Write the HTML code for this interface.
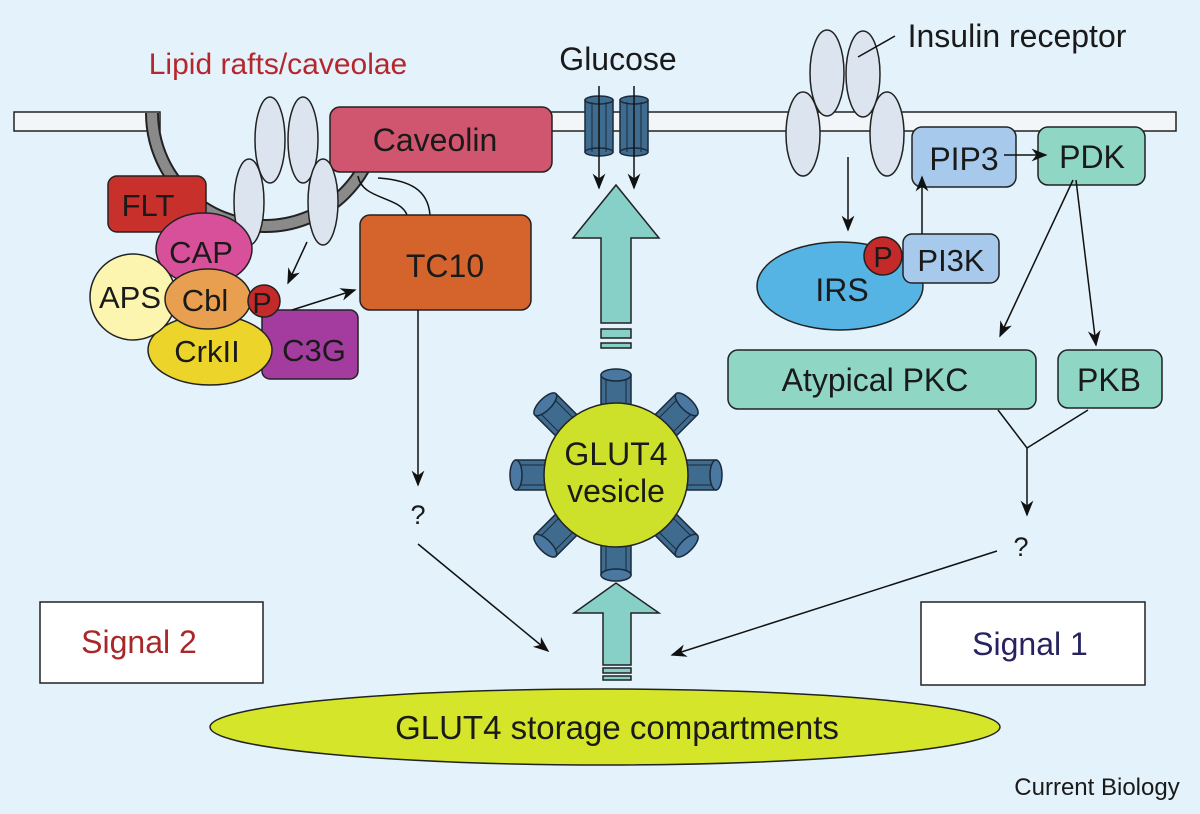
<!DOCTYPE html>
<html><head><meta charset="utf-8"><style>
html,body{margin:0;padding:0;background:#e3f2fb;}
svg{display:block;}
text{font-family:"Liberation Sans",sans-serif;fill:#1a1a1a;}
</style></head><body>
<svg width="1200" height="814" viewBox="0 0 1200 814" xmlns="http://www.w3.org/2000/svg">
<defs>
<marker id="ahb" viewBox="0 0 10 10" refX="9" refY="5" markerWidth="16" markerHeight="16" orient="auto" markerUnits="userSpaceOnUse">
<path d="M0,1 L10,5 L0,9 L3,5 Z" fill="#111"/></marker>
<g id="cyl">
<rect x="-15" y="-100" width="30" height="45" fill="#3f6b8f" stroke="#1a2a3a" stroke-width="1.5"/>
<line x1="-10" y1="-98" x2="-10" y2="-58" stroke="#1a2a3a"/>
<line x1="10" y1="-98" x2="10" y2="-58" stroke="#1a2a3a"/>
<ellipse cx="0" cy="-100" rx="15" ry="6" fill="#4a78a0" stroke="#1a2a3a" stroke-width="1.5"/>
</g>
</defs>
<rect width="1200" height="814" fill="#e3f2fb"/>

<!-- membrane -->
<rect x="14" y="112" width="146" height="19" fill="#f3f6f8" stroke="#222" stroke-width="1.5"/>
<rect x="540" y="112" width="636" height="19" fill="#f3f6f8" stroke="#222" stroke-width="1.5"/>
<path d="M152,113 A113,113 0 0 0 378,113" fill="none" stroke="#222" stroke-width="14"/>
<path d="M152,113 A113,113 0 0 0 378,113" fill="none" stroke="#8a8a8a" stroke-width="10"/>

<text x="278" y="74" font-size="30" text-anchor="middle" style="fill:#b5272d">Lipid rafts/caveolae</text>

<!-- Caveolin -->
<rect x="330" y="107" width="222" height="65" rx="10" fill="#d0556e" stroke="#222" stroke-width="1.5"/>
<text x="435" y="151" font-size="32" text-anchor="middle">Caveolin</text>
<path d="M358,176 C362,200 400,196 407,215" fill="none" stroke="#111" stroke-width="1.5"/>
<path d="M378,178 C410,180 428,190 430,215" fill="none" stroke="#111" stroke-width="1.5"/>

<g fill="#dce4ef" stroke="#222" stroke-width="1.5">
<ellipse cx="270" cy="140" rx="15" ry="43"/>
<ellipse cx="303" cy="140" rx="15" ry="43"/>
<ellipse cx="249" cy="202" rx="15" ry="43"/>
<ellipse cx="323" cy="202" rx="15" ry="43"/>
</g>

<!-- complex -->
<rect x="108" y="176" width="98" height="56" rx="9" fill="#c8302c" stroke="#222" stroke-width="1.5"/>
<text x="148" y="216" font-size="31" text-anchor="middle">FLT</text>
<ellipse cx="204" cy="249" rx="48" ry="36" fill="#d9509a" stroke="#222" stroke-width="1.5"/>
<text x="201" y="263" font-size="31" text-anchor="middle">CAP</text>
<rect x="262" y="310" width="96" height="69" rx="8" fill="#a43ca0" stroke="#222" stroke-width="1.5"/>
<text x="314" y="361" font-size="31" text-anchor="middle">C3G</text>
<ellipse cx="210" cy="350" rx="62" ry="35" fill="#ecd42a" stroke="#222" stroke-width="1.5"/>
<text x="207" y="362" font-size="31" text-anchor="middle">CrkII</text>
<circle cx="133" cy="297" r="43" fill="#fbf5b0" stroke="#222" stroke-width="1.5"/>
<text x="130" y="308" font-size="31" text-anchor="middle">APS</text>
<ellipse cx="208" cy="299" rx="43" ry="30" fill="#e8a050" stroke="#222" stroke-width="1.5"/>
<text x="205" y="311" font-size="31" text-anchor="middle">Cbl</text>
<circle cx="264" cy="301" r="16" fill="#c42a2a" stroke="#222" stroke-width="1.5"/>
<text x="262" y="313" font-size="29" text-anchor="middle">P</text>
<line x1="307" y1="242" x2="288" y2="283" stroke="#111" stroke-width="1.5" marker-end="url(#ahb)"/>
<line x1="292" y1="310" x2="355" y2="290" stroke="#111" stroke-width="1.5" marker-end="url(#ahb)"/>

<!-- TC10 -->
<rect x="360" y="215" width="171" height="95" rx="10" fill="#d5642c" stroke="#222" stroke-width="1.5"/>
<text x="445" y="277" font-size="32" text-anchor="middle">TC10</text>
<line x1="418" y1="310" x2="418" y2="485" stroke="#111" stroke-width="1.5" marker-end="url(#ahb)"/>
<text x="418" y="524" font-size="27" text-anchor="middle">?</text>
<line x1="418" y1="544" x2="548" y2="651" stroke="#111" stroke-width="1.5" marker-end="url(#ahb)"/>

<!-- Glucose -->
<text x="618" y="70" font-size="32" text-anchor="middle">Glucose</text>
<g fill="#3f6b8f" stroke="#1a2a3a" stroke-width="1.5">
<rect x="585" y="100" width="28" height="52"/><ellipse cx="599" cy="100" rx="14" ry="4"/><ellipse cx="599" cy="152" rx="14" ry="4"/>
<rect x="620" y="100" width="28" height="52"/><ellipse cx="634" cy="100" rx="14" ry="4"/><ellipse cx="634" cy="152" rx="14" ry="4"/>
</g>
<g stroke="#1a2a3a" stroke-width="1"><line x1="592" y1="102" x2="592" y2="152"/><line x1="606" y1="102" x2="606" y2="152"/><line x1="627" y1="102" x2="627" y2="152"/><line x1="641" y1="102" x2="641" y2="152"/></g>
<line x1="599" y1="86" x2="599" y2="188" stroke="#111" stroke-width="1.5" marker-end="url(#ahb)"/>
<line x1="634" y1="86" x2="634" y2="188" stroke="#111" stroke-width="1.5" marker-end="url(#ahb)"/>

<!-- big arrows -->
<g fill="#86d0c8" stroke="#222" stroke-width="1.5">
<path d="M601,323 L601,238 L573,238 L616,185 L659,238 L631,238 L631,323 Z"/>
<rect x="601" y="329" width="30" height="9"/><rect x="601" y="343" width="30" height="5"/>
<path d="M603,665 L603,613 L574,613 L616,583 L659,613 L631,613 L631,665 Z"/>
<rect x="603" y="668" width="28" height="5"/><rect x="603" y="676" width="28" height="4"/>
</g>

<!-- vesicle -->
<g transform="translate(616,475)">
<use href="#cyl"/>
<use href="#cyl" transform="rotate(45)"/>
<use href="#cyl" transform="rotate(90)"/>
<use href="#cyl" transform="rotate(135)"/>
<use href="#cyl" transform="rotate(180)"/>
<use href="#cyl" transform="rotate(225)"/>
<use href="#cyl" transform="rotate(270)"/>
<use href="#cyl" transform="rotate(315)"/>
<circle r="72" fill="#cde02a" stroke="#222" stroke-width="1.5"/>
</g>
<text x="616" y="465" font-size="32" text-anchor="middle">GLUT4</text>
<text x="616" y="502" font-size="32" text-anchor="middle">vesicle</text>

<!-- storage -->
<ellipse cx="605" cy="727" rx="395" ry="38" fill="#d5e52a" stroke="#222" stroke-width="1.5"/>
<text x="617" y="739" font-size="33" text-anchor="middle">GLUT4 storage compartments</text>

<!-- signal boxes -->
<rect x="40" y="602" width="223" height="81" fill="#fff" stroke="#222" stroke-width="1.5"/>
<text x="139" y="653" font-size="32" text-anchor="middle" style="fill:#a8282a">Signal 2</text>
<rect x="921" y="602" width="224" height="83" fill="#fff" stroke="#222" stroke-width="1.5"/>
<text x="1030" y="655" font-size="32" text-anchor="middle" style="fill:#26235e">Signal 1</text>

<!-- insulin receptor -->
<text x="1017" y="47" font-size="32" text-anchor="middle">Insulin receptor</text>
<g fill="#dce4ef" stroke="#222" stroke-width="1.5">
<ellipse cx="803" cy="134" rx="17" ry="42"/>
<ellipse cx="887" cy="134" rx="17" ry="42"/>
<ellipse cx="827" cy="73" rx="17" ry="43"/>
<ellipse cx="863" cy="74" rx="17" ry="43"/>
</g>
<line x1="895" y1="36" x2="858" y2="57" stroke="#111" stroke-width="1.5"/>
<line x1="848" y1="157" x2="848" y2="230" stroke="#111" stroke-width="1.5" marker-end="url(#ahb)"/>

<ellipse cx="840" cy="286" rx="83" ry="44" fill="#55b4e4" stroke="#222" stroke-width="1.5"/>
<text x="842" y="301" font-size="32" text-anchor="middle">IRS</text>
<rect x="903" y="234" width="96" height="49" rx="9" fill="#a7c9ec" stroke="#222" stroke-width="1.5"/>
<text x="951" y="271" font-size="31" text-anchor="middle">PI3K</text>
<circle cx="883" cy="256" r="19" fill="#c42a2a" stroke="#222" stroke-width="1.5"/>
<text x="883" y="267" font-size="29" text-anchor="middle">P</text>
<rect x="912" y="127" width="104" height="60" rx="10" fill="#a7c9ec" stroke="#222" stroke-width="1.5"/>
<text x="964" y="170" font-size="32" text-anchor="middle">PIP3</text>
<line x1="922" y1="234" x2="922" y2="177" stroke="#111" stroke-width="1.5" marker-end="url(#ahb)"/>
<rect x="1038" y="127" width="107" height="58" rx="10" fill="#8fd6c4" stroke="#222" stroke-width="1.5"/>
<text x="1092" y="168" font-size="32" text-anchor="middle">PDK</text>
<line x1="1004" y1="155" x2="1046" y2="155" stroke="#111" stroke-width="1.5" marker-end="url(#ahb)"/>
<line x1="1073" y1="180" x2="1000" y2="336" stroke="#111" stroke-width="1.5" marker-end="url(#ahb)"/>
<line x1="1076" y1="180" x2="1096" y2="345" stroke="#111" stroke-width="1.5" marker-end="url(#ahb)"/>
<rect x="728" y="350" width="308" height="59" rx="10" fill="#8fd6c4" stroke="#222" stroke-width="1.5"/>
<text x="875" y="391" font-size="32" text-anchor="middle">Atypical PKC</text>
<rect x="1058" y="350" width="104" height="58" rx="10" fill="#8fd6c4" stroke="#222" stroke-width="1.5"/>
<text x="1109" y="391" font-size="32" text-anchor="middle">PKB</text>
<polyline points="998,410 1027,448 1088,410" fill="none" stroke="#111" stroke-width="1.5"/>
<line x1="1027" y1="448" x2="1027" y2="515" stroke="#111" stroke-width="1.5" marker-end="url(#ahb)"/>
<text x="1021" y="556" font-size="27" text-anchor="middle">?</text>
<line x1="997" y1="551" x2="672" y2="655" stroke="#111" stroke-width="1.5" marker-end="url(#ahb)"/>

<text x="1097" y="795" font-size="24" text-anchor="middle">Current Biology</text>
</svg>
</body></html>
